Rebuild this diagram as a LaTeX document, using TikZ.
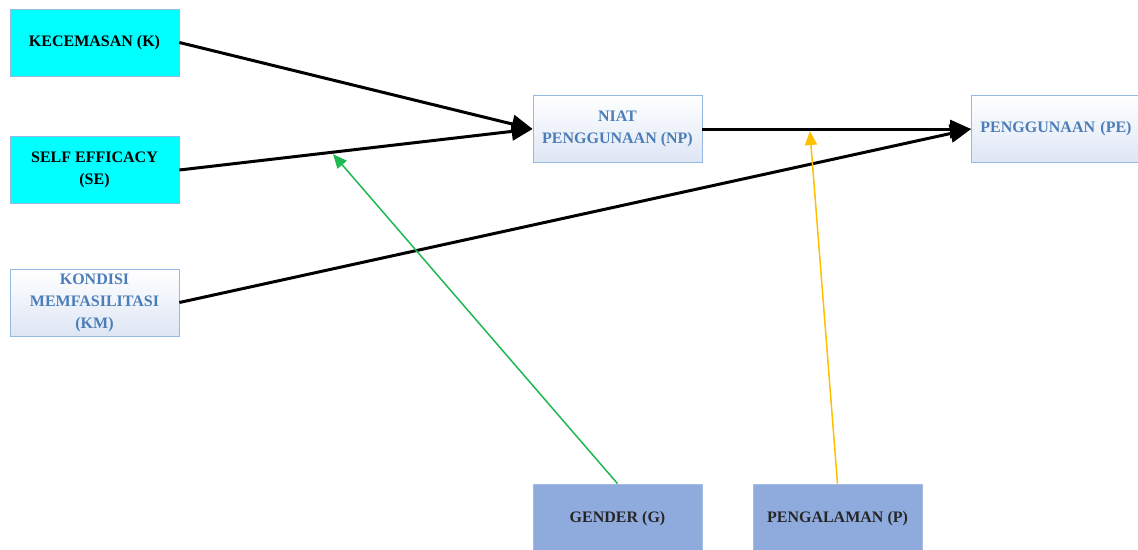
\documentclass[tikz,border=0pt]{standalone}
\usepackage{fontspec}
\setmainfont{Liberation Serif}
\usetikzlibrary{arrows.meta,calc}
\definecolor{cyanbox}{RGB}{0,255,255}
\definecolor{boxline}{RGB}{150,185,225}
\definecolor{paleblue}{RGB}{222,230,244}
\definecolor{steeltext}{RGB}{75,125,185}
\definecolor{modbox}{RGB}{143,170,220}
\definecolor{greenline}{RGB}{30,185,80}
\definecolor{yellowline}{RGB}{255,192,0}
\begin{document}
\begin{tikzpicture}[x=1pt,y=-1pt,
  box/.style={draw=boxline,line width=0.8pt,minimum width=169pt,minimum height=67pt,inner sep=1pt,align=center,
    font=\fontsize{16}{22}\selectfont\bfseries},
  cbox/.style={box,fill=cyanbox,text=black},
  gbox/.style={box,top color=white,bottom color=paleblue,text=steeltext},
  mbox/.style={box,fill=modbox,draw=modbox!80!white,text=black!85},
  mainarrow/.style={line width=3pt,-{Triangle[length=21pt,width=18pt]}},
  greenarrow/.style={draw=greenline,line width=1.5pt,-{Triangle[length=14pt,width=12pt]}},
  yellowarrow/.style={draw=yellowline,line width=1.5pt,-{Triangle[length=14pt,width=12pt]}}]
\useasboundingbox (0,0) rectangle (1138,549);
\fill[white] (0,0) rectangle (1138,549);
\node[cbox] (K) at (94.5,42.5) {KECEMASAN (K)};
\node[cbox] (SE) at (94.5,170) {SELF EFFICACY\\(SE)};
\node[gbox] (KM) at (94.5,302.5) {KONDISI\\MEMFASILITASI\\(KM)};
\node[gbox] (NP) at (617.5,129) {NIAT\\PENGGUNAAN (NP)};
\node[gbox,text width=160pt] (PE) at (1056,129) {PENGGUNAAN (PE)};
\node[mbox,minimum height=70pt] (G) at (617.5,519) {GENDER (G)};
\node[mbox,minimum height=70pt] (P) at (837.5,519) {PENGALAMAN (P)};
\draw[mainarrow] (K.east) -- (NP.west);
\draw[mainarrow] (SE.east) -- (NP.west);
\draw[mainarrow] (NP.east) -- (PE.west);
\draw[mainarrow] (KM.east) -- (PE.west);
\coordinate (gm) at ($(SE.east)!0.435!(NP.west)+(0,2)$);
\coordinate (pm) at ($(NP.east)!0.40!(PE.west)+(0,2)$);
\draw[greenarrow] (G.north) -- (gm);
\draw[yellowarrow] (P.north) -- (pm);
\end{tikzpicture}
\end{document}
